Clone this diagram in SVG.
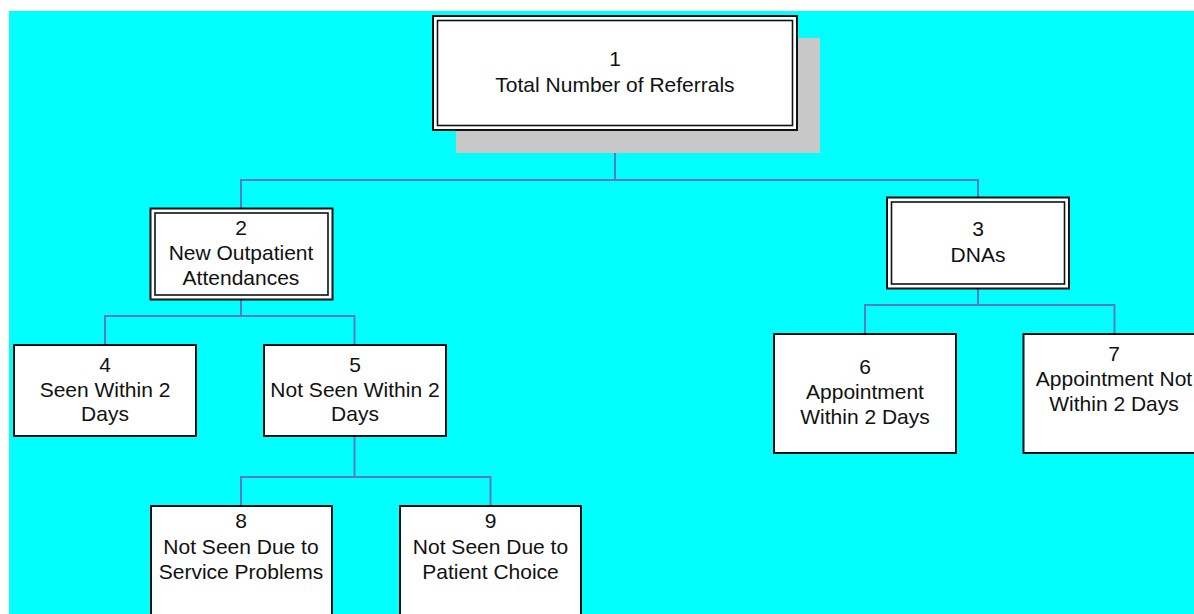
<svg xmlns="http://www.w3.org/2000/svg" width="1194" height="614" viewBox="0 0 1194 614">
<style>
.box{fill:#ffffff;stroke:#111111;stroke-width:2}
.inner{fill:none;stroke:#111111;stroke-width:1.6}
.conn{fill:none;stroke:#5a7ac6;stroke-width:2}
text{font-family:"Liberation Sans",Arial,sans-serif;font-size:21px;fill:#111111;text-anchor:middle}
</style>
<rect x="0" y="0" width="1194" height="614" fill="#ffffff"/>
<rect x="9" y="11" width="1185" height="603" fill="#00ffff"/>
<g id="connectors">
<path class="conn" d="M615,130 V180 M241,208 V180 H978 V197"/>
<path class="conn" d="M241,299 V316 M105,345 V316 H354.5 V345"/>
<path class="conn" d="M978,289 V305 M865,334 V305 H1114.5 V334"/>
<path class="conn" d="M354.5,436 V477 M241,506 V477 H490.5 V506"/>
</g>
<g id="node1">
<rect x="456" y="38" width="364" height="115" fill="#c8c8c8"/>
<rect class="box" x="433" y="16" width="364" height="114"/>
<rect class="inner" x="437.5" y="20.5" width="355" height="105"/>
<text x="615" y="66">1</text>
<text x="615" y="92">Total Number of Referrals</text>
</g>
<g id="node2">
<rect class="box" x="150.5" y="208.5" width="182" height="91"/>
<rect class="inner" x="155" y="213" width="173" height="82"/>
<text x="241" y="235">2</text>
<text x="241" y="260">New Outpatient</text>
<text x="241" y="285">Attendances</text>
</g>
<g id="node3">
<rect class="box" x="887" y="197.5" width="182" height="91"/>
<rect class="inner" x="891.5" y="202" width="173" height="82"/>
<text x="978" y="236">3</text>
<text x="978" y="262">DNAs</text>
</g>
<g id="node4">
<rect class="box" x="14" y="345" width="182" height="91"/>
<text x="105" y="372">4</text>
<text x="105" y="397">Seen Within 2</text>
<text x="105" y="421">Days</text>
</g>
<g id="node5">
<rect class="box" x="264" y="345" width="182" height="91"/>
<text x="355" y="372">5</text>
<text x="355" y="397">Not Seen Within 2</text>
<text x="355" y="421">Days</text>
</g>
<g id="node6">
<rect class="box" x="774" y="334" width="182" height="119"/>
<text x="865" y="374">6</text>
<text x="865" y="399">Appointment</text>
<text x="865" y="424">Within 2 Days</text>
</g>
<g id="node7">
<rect class="box" x="1023.5" y="334" width="182" height="119"/>
<text x="1114" y="361">7</text>
<text x="1114" y="386">Appointment Not</text>
<text x="1114" y="411">Within 2 Days</text>
</g>
<g id="node8">
<rect class="box" x="151" y="506" width="181" height="119"/>
<text x="241" y="528">8</text>
<text x="241" y="554">Not Seen Due to</text>
<text x="241" y="579">Service Problems</text>
</g>
<g id="node9">
<rect class="box" x="400" y="506" width="181" height="119"/>
<text x="490.5" y="528">9</text>
<text x="490.5" y="554">Not Seen Due to</text>
<text x="490.5" y="579">Patient Choice</text>
</g>
</svg>
